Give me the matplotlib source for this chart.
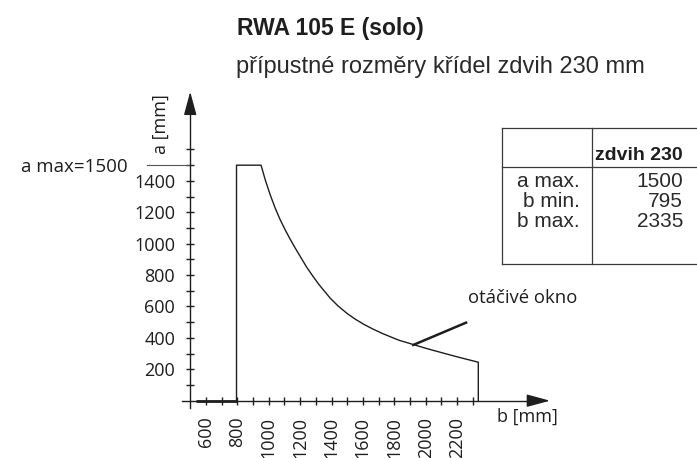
import matplotlib

matplotlib.use("Agg")
import matplotlib.pyplot as plt
from matplotlib.lines import Line2D

# permissible sash region (b = width, a = height, mm)
region_b = [795, 795, 951, 980, 1010, 1040, 1072, 1105, 1136, 1170, 1200, 1242, 1280, 1320, 1390,
            1440, 1500, 1550, 1603, 1660, 1720, 1780, 1830, 1880, 1930, 1990, 2050, 2190, 2335, 2335]
region_a = [0, 1500, 1500, 1400, 1310, 1230, 1155, 1088, 1030, 970, 920, 850, 795, 740, 655,
            605, 555, 520, 488, 458, 430, 405, 385, 370, 355, 337, 320, 282, 245, 0]

a_max = 1500
y_major = [200, 400, 600, 800, 1000, 1200, 1400]
y_minor = list(range(100, 1700, 100))
x_major = [600, 800, 1000, 1200, 1400, 1600, 1800, 2000, 2200]
x_minor = list(range(600, 2400, 100))
thick_base = [540, 800]

# pointer to the curve ("otáčivé okno")
pointer_b = [1921, 2257]
pointer_a = [355, 497]

table_header = "zdvih 230"
table_rows = ["a max.", "b min.", "b max."]
table_values = ["1500", "795", "2335"]

title = "RWA 105 E (solo)"
subtitle = "přípustné rozměry křídel zdvih 230 mm"

W, H = 697, 458
INK = "#1e1e1e"
NUM_FONT = "Open Sans"
HEAD_FONT = "Liberation Sans"

plt.rcParams["font.family"] = [NUM_FONT, "DejaVu Sans"]
plt.rcParams["xtick.labelsize"] = 13
plt.rcParams["ytick.labelsize"] = 13

fig = plt.figure(figsize=(W / 100, H / 100), dpi=100)
ax = fig.add_axes([0, 0, 1, 1])
# equal scale: 100 mm ~ 15.7 px on both axes
ax.set_xlim(-711.5, 3728)
ax.set_ylim(-365, 2552)

for side in ("top", "right"):
    ax.spines[side].set_visible(False)
ax.spines["left"].set_position(("data", 500))
ax.spines["bottom"].set_position(("data", 0))
ax.spines["left"].set_bounds(-46, 1850)
ax.spines["bottom"].set_bounds(446, 2670)
for side in ("left", "bottom"):
    ax.spines[side].set_color(INK)
    ax.spines[side].set_linewidth(1.0)

ax.set_xticks(x_major)
ax.set_xticks(x_minor, minor=True)
ax.set_yticks(y_major)
ax.set_yticks(y_minor, minor=True)
ax.tick_params(which="both", direction="inout", length=5.8, width=1.0, color=INK)
ax.tick_params(axis="y", which="major", pad=7.9, labelcolor=INK)
ax.tick_params(axis="x", which="major", pad=8.6, labelcolor=INK, labelrotation=90)

# arrow heads on the axes
head = dict(arrowstyle="-|>,head_length=1.0,head_width=0.27", mutation_scale=14.4,
            color=INK, lw=1.0, shrinkA=0, shrinkB=0)
ax.annotate("", xy=(500, 1968), xytext=(500, 1840), arrowprops=head)
ax.annotate("", xy=(2792, 0), xytext=(2660, 0), arrowprops=head)

ax.plot(thick_base, [0, 0], color=INK, lw=2.0, solid_capstyle="butt")
ax.plot(region_b, region_a, color=INK, lw=1.0)
ax.plot(pointer_b, pointer_a, color=INK, lw=1.8)
ax.text(2268, 654, "otáčivé okno", fontsize=13.3, color=INK, ha="left", va="center")

# a max marker on the left
ax.plot([225, 500], [a_max, a_max], color="#555555", lw=0.8)
ax.text(104, a_max - 10, f"a max={a_max}", fontsize=13.5, color=INK, ha="right", va="center")

ax.text(315, 1765, "a [mm]", fontsize=13, color=INK, rotation=90, ha="center", va="center")
ax.text(2454, -105, "b [mm]", fontsize=13, color=INK, ha="left", va="center")


def fx(px):
    return px / W


def fy(py):
    return 1 - py / H


fig.text(fx(237), fy(35), title, fontsize=16.5, fontweight="bold", family=HEAD_FONT,
         color=INK, va="baseline")
fig.text(fx(236), fy(73), subtitle, fontsize=17, family=HEAD_FONT, color="#2a2a2a",
         va="baseline")

# value table at top right (no right border)
tcol = "#3a3a3a"
for py in (128.3, 166.7, 264):
    fig.add_artist(Line2D([fx(501.7), fx(697)], [fy(py), fy(py)], color=tcol, lw=0.9))
for px in (501.7, 592.3):
    fig.add_artist(Line2D([fx(px), fx(px)], [fy(128.3), fy(264)], color=tcol, lw=0.9))

fig.text(fx(683), fy(155), table_header, fontsize=14, fontweight="bold", family=HEAD_FONT,
         color=INK, ha="right", va="center")
for i, (name, val) in enumerate(zip(table_rows, table_values)):
    py = 181.7 + 20 * i
    fig.text(fx(580), fy(py), name, fontsize=15, family=HEAD_FONT, color="#2a2a2a",
             ha="right", va="center")
    fig.text(fx(683), fy(py), val, fontsize=15, family=HEAD_FONT, color="#2a2a2a",
             ha="right", va="center")

fig.savefig("out.png", dpi=100)
